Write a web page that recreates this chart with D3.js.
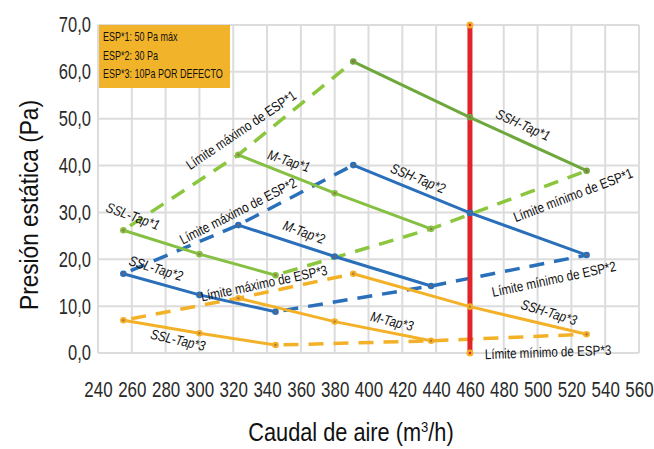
<!DOCTYPE html>
<html><head><meta charset="utf-8">
<script src="https://cdn.jsdelivr.net/npm/d3@7"></script>
<style>
body{margin:0;background:#fff;}
svg{display:block;}
text{font-family:"Liberation Sans",Arial,sans-serif;}
</style></head>
<body>
<svg id="c" width="654" height="449"></svg>
<script>
// ---- data ----
const xTicks = [240,260,280,300,320,340,360,380,400,420,440,460,480,500,520,540,560];
const yTicks = [0,10,20,30,40,50,60,70];
const sslX = [255,300,345];
const mX   = [323,380,437];
const sshX = [391,460,529];
const ssl1 = [26.2,21.1,16.6];
const ssl2 = [16.9,12.4,8.8];
const ssl3 = [7.0,4.2,1.7];
const m1   = [42.3,34.1,26.5];
const m2   = [27.3,20.6,14.3];
const m3   = [11.7,6.7,2.6];
const ssh1 = [62.2,50.3,38.9];
const ssh2 = [40.1,29.9,20.9];
const ssh3 = [16.9,9.9,4.0];
const refX = 460;
const legendLines = ["ESP*1: 50 Pa máx","ESP*2: 30 Pa","ESP*3: 10Pa POR DEFECTO"];

// ---- layout ----
const svg = d3.select("#c");
const x = d3.scaleLinear().domain([240,560]).range([98,639]);
const y = d3.scaleLinear().domain([0,70]).range([353,25]);
const GREEN="#86c043", GREEN_D="#6ea83d", BLUE="#2a6fba", ORANGE="#f3b128", RED="#e0242a";
const TICK_SQ = 0.77;

// grid
const g = svg.append("g");
g.selectAll(".vx").data(xTicks).join("line")
  .attr("x1",d=>x(d)).attr("x2",d=>x(d)).attr("y1",y(0)).attr("y2",y(70))
  .attr("stroke","#dcdcdc").attr("stroke-width",2);
g.selectAll(".hy").data(yTicks).join("line")
  .attr("x1",x(240)).attr("x2",x(560)).attr("y1",d=>y(d)).attr("y2",d=>y(d))
  .attr("stroke","#dcdcdc").attr("stroke-width",2);

// axes (tick labels)
const xAxis = d3.axisBottom(x).tickValues(xTicks).tickSize(0).tickPadding(28).tickFormat(d3.format("d"));
svg.append("g").attr("transform",`translate(0,${y(0)})`).call(xAxis)
  .call(a=>a.select(".domain").remove())
  .selectAll("text").attr("font-size",22).attr("fill","#2a2a2a")
  .attr("font-family",'"Liberation Sans",Arial,sans-serif')
  .attr("transform",`scale(${TICK_SQ},1)`);
const yAxis = d3.axisLeft(y).tickValues(yTicks).tickSize(0)
  .tickFormat(d=>d3.format(".1f")(d).replace(".",","));
svg.append("g").attr("transform",`translate(${x(240)},0)`).call(yAxis)
  .call(a=>a.select(".domain").remove())
  .selectAll("text").attr("font-size",21.5).attr("fill","#2a2a2a")
  .attr("font-family",'"Liberation Sans",Arial,sans-serif')
  .attr("x",-7/TICK_SQ)
  .attr("transform",`scale(${TICK_SQ},1)`);

// axis titles
svg.append("text").attr("transform","translate(351,441) scale(0.87,1)").attr("text-anchor","middle")
  .attr("font-size",25).attr("fill","#111")
  .html('Caudal de aire (m<tspan dy="-9" font-size="15">3</tspan><tspan dy="9">/h)</tspan>');
svg.append("text").attr("transform","translate(38,205) rotate(-90) scale(0.87,1)").attr("text-anchor","middle")
  .attr("font-size",26).attr("fill","#111").text("Presión estática (Pa)");

// legend box
svg.append("rect").attr("x",99).attr("y",25).attr("width",131).attr("height",63).attr("fill","#f1b32a");
svg.selectAll(".lg").data(legendLines).join("text")
  .attr("transform",(d,i)=>`translate(103,${41+i*18.5}) scale(0.72,1)`)
  .attr("font-size",12.5).attr("fill","#111").text(d=>d);

const line = d3.line().x(d=>x(d[0])).y(d=>y(d[1]));
const zip = (xs,ys)=>xs.map((v,i)=>[v,ys[i]]);
const series = [
  {xs:sslX, ys:ssl1, c:GREEN},{xs:mX, ys:m1, c:GREEN},{xs:sshX, ys:ssh1, c:GREEN_D},
  {xs:sslX, ys:ssl2, c:BLUE},{xs:mX, ys:m2, c:BLUE},{xs:sshX, ys:ssh2, c:BLUE},
  {xs:sslX, ys:ssl3, c:ORANGE},{xs:mX, ys:m3, c:ORANGE},{xs:sshX, ys:ssh3, c:ORANGE}
];
const groups = [[ssl1,m1,ssh1,"#8cc63f"],[ssl2,m2,ssh2,BLUE],[ssl3,m3,ssh3,ORANGE]];
const starts = [sslX[0],mX[0],sshX[0]], ends = [sslX[2],mX[2],sshX[2]];
const limits = [];
groups.forEach(([a,b,c,col])=>{
  limits.push({pts:zip(starts,[a[0],b[0],c[0]]), c:col});
  limits.push({pts:zip(ends,[a[2],b[2],c[2]]), c:col});
});

// dashed limits
svg.selectAll(".lim").data(limits).join("path")
  .attr("d",d=>line(d.pts)).attr("fill","none").attr("stroke",d=>d.c)
  .attr("stroke-width",3.5).attr("stroke-dasharray","15,10").attr("stroke-dashoffset",-8);

// solid series
svg.selectAll(".ser").data(series).join("path")
  .attr("d",d=>line(zip(d.xs,d.ys))).attr("fill","none").attr("stroke",d=>d.c).attr("stroke-width",3);

// red reference line
svg.append("line").attr("x1",x(refX)).attr("x2",x(refX)).attr("y1",y(0)).attr("y2",y(70))
  .attr("stroke",RED).attr("stroke-width",5);
svg.selectAll(".rm").data([0,70]).join("circle")
  .attr("cx",x(refX)).attr("cy",d=>y(d)).attr("r",3.5).attr("fill",ORANGE);
svg.selectAll(".rm2").data([0,70]).join("circle")
  .attr("cx",x(refX)).attr("cy",d=>y(d)).attr("r",1.3).attr("fill",RED);

// markers
const pts = [];
series.forEach(s=>s.xs.forEach((v,i)=>pts.push({x:v,y:s.ys[i],c:s.c})));
svg.selectAll(".mk").data(pts).join("circle")
  .attr("cx",d=>x(d.x)).attr("cy",d=>y(d.y)).attr("r",3.3).attr("fill",d=>d.c);
svg.selectAll(".mk2").data(pts).join("circle")
  .attr("cx",d=>x(d.x)).attr("cy",d=>y(d.y)).attr("r",1.2).attr("fill","#9a5a48").attr("opacity",0.7);

// labels (data-space anchors)
const labels = [
  ["Límite máximo de ESP*1",324.6,47.6,-34,false],
  ["M-Tap*1",353,41.0,18,true],
  ["Límite máximo de ESP*2",322.8,30.3,-27,false],
  ["SSL-Tap*1",260.7,29.2,20,true],
  ["SSL-Tap*2",274.3,18.1,17,true],
  ["Límite máximo de ESP*3",338.2,14.9,-12,false],
  ["SSL-Tap*3",287.3,2.8,13,true],
  ["M-Tap*2",361.9,25.8,20,true],
  ["M-Tap*3",413.9,6.8,14,true],
  ["SSH-Tap*2",429.3,37.3,22,true],
  ["SSH-Tap*1",491.4,48.7,24,true],
  ["Límite mínimo de ESP*1",521,33.7,-21,false],
  ["Límite mínimo de ESP*2",509.7,15.8,-12,false],
  ["SSH-Tap*3",506.8,8.7,17,true],
  ["Límite mínimo de ESP*3",506.2,0.2,-2,false]
];
svg.selectAll(".lb").data(labels).join("text")
  .attr("transform",d=>`translate(${x(d[1])},${y(d[2])}) rotate(${d[3]}) scale(0.83,1)`)
  .attr("text-anchor","middle").attr("dy","0.35em")
  .attr("font-size",14).attr("fill","#111")
  .attr("font-style",d=>d[4]?"italic":"normal")
  .text(d=>d[0]);
</script>
</body></html>
